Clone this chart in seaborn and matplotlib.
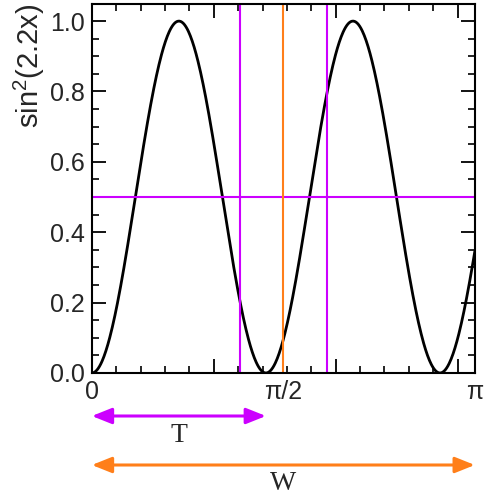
import numpy as np
import pandas as pd
import matplotlib
matplotlib.use('Agg')
import matplotlib.pyplot as plt
import matplotlib.transforms as mtransforms
from matplotlib.patches import FancyArrowPatch
import seaborn as sns
from matplotlib.ticker import MultipleLocator

sns.set_style('ticks')
plt.rcParams['font.family'] = ['Liberation Sans', 'DejaVu Sans']
plt.rcParams['mathtext.default'] = 'regular'

# curve: sin^2(k x) on [0, pi], as named on the y axis
k = 2.2
x_max = np.pi
period = np.pi / k                  # T
mid = np.pi / 2                     # orange marker
half_level = 0.5                    # horizontal magenta line
side_lines = [mid - period / 4, mid + period / 4]

x_ticks = [0, 1, np.pi / 2, 2, 3, np.pi]
x_tick_labels = ['0', '', 'π/2', '', '', 'π']

x = np.linspace(0, x_max, 600)
df = pd.DataFrame({'x': x, 'y': np.sin(k * x) ** 2})

magenta = '#cc00ff'
orange = '#ff7f1a'

fig = plt.figure(figsize=(4.86, 5.0), dpi=100)
ax = fig.add_axes([0.189, 0.254, 0.788, 0.739])

sns.lineplot(data=df, x='x', y='y', color='black', linewidth=2, ax=ax)
ax.axhline(half_level, color=magenta, linewidth=1.5)
for xv in side_lines:
    ax.axvline(xv, color=magenta, linewidth=1.5)
ax.axvline(mid, color=orange, linewidth=1.5)

ax.set_xlim(0, x_max)
ax.set_ylim(0, 1.05)
ax.set_xticks(x_ticks)
ax.set_xticklabels(x_tick_labels)
ax.xaxis.set_minor_locator(MultipleLocator(0.2))
ax.yaxis.set_major_locator(MultipleLocator(0.2))
ax.yaxis.set_minor_locator(MultipleLocator(0.05))
ax.set_yticklabels([f'{v:.1f}' for v in ax.get_yticks()])

ax.tick_params(which='both', direction='in', top=True, right=True,
               bottom=True, left=True, color='black', labelsize=18)
ax.tick_params(which='major', length=10, width=1.3, pad=5)
ax.tick_params(which='minor', length=5, width=1.2)
for s in ax.spines.values():
    s.set_linewidth(1.5)
    s.set_color('black')

ax.set_xlabel('')
ax.set_ylabel('sin$^2$(2.2x)', fontsize=21, loc='top', labelpad=2)

# T and W arrows under the axis (x in data units, y in figure fraction)
trans = mtransforms.blended_transform_factory(ax.transData, fig.transFigure)
arrow_style = '<|-|>,head_length=0.75,head_width=0.3'
for x0, x1, yf, col, label, ytxt in [(0, period, 0.168, magenta, 'T', 0.128),
                                      (0, x_max, 0.070, orange, 'W', 0.034)]:
    fig.add_artist(FancyArrowPatch((x0, yf), (x1, yf), transform=trans,
                                   arrowstyle=arrow_style, mutation_scale=16,
                                   color=col, lw=2.2, shrinkA=0, shrinkB=0))
    fig.text((x0 + x1) / 2, ytxt, label, transform=trans, ha='center', va='center',
             fontsize=20, family='Liberation Serif')

fig.savefig('out.png', dpi=100)
